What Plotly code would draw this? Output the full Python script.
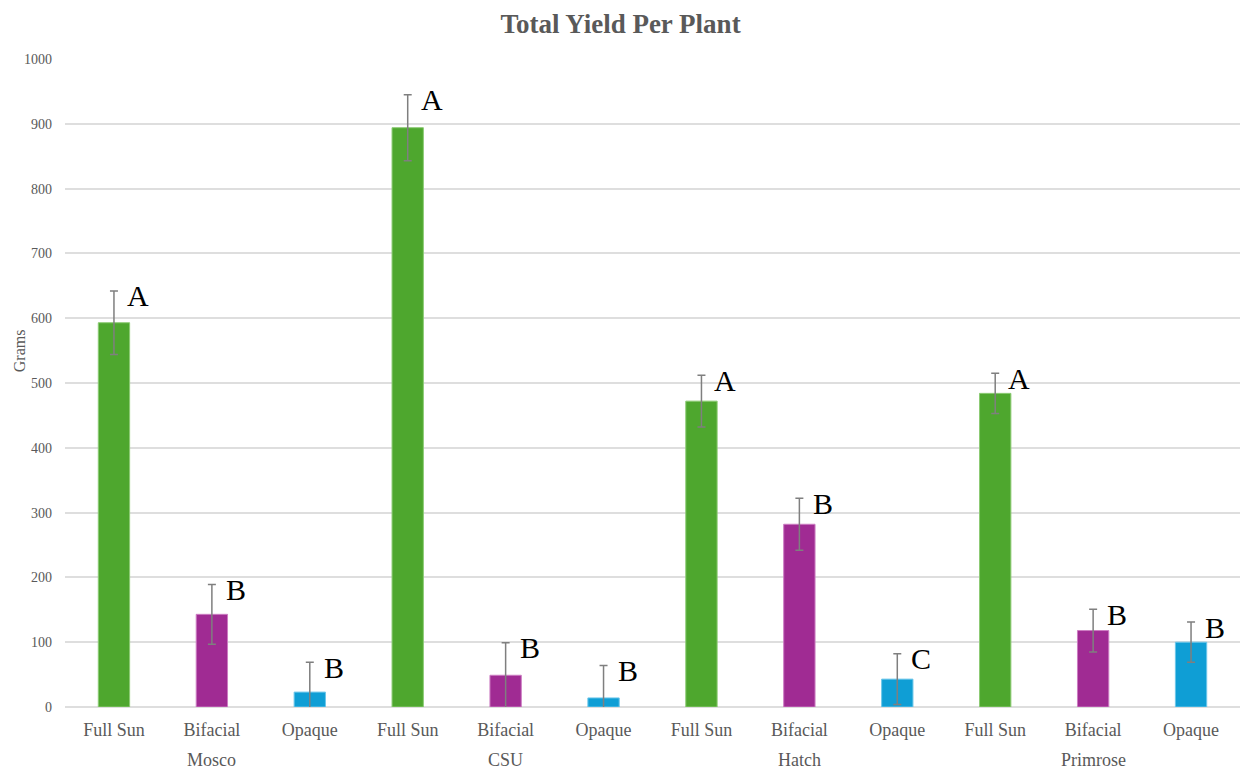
import plotly.graph_objects as go

# Yield per plant (grams), mean and error, by site and growing treatment
sites = ["Mosco", "CSU", "Hatch", "Primrose"]
treatments = ["Full Sun", "Bifacial", "Opaque"]

yield_full_sun = [593, 894, 472, 484]
yield_bifacial = [143, 49, 282, 118]
yield_opaque = [23, 14, 43, 100]

err_full_sun = [49, 51, 40, 31]
err_bifacial = [46, 50, 40, 33]
err_opaque = [46, 50, 39, 31]

# Significance letters per bar
letters_full_sun = ["A", "A", "A", "A"]
letters_bifacial = ["B", "B", "B", "B"]
letters_opaque = ["B", "B", "C", "B"]

y_ticks = [0, 100, 200, 300, 400, 500, 600, 700, 800, 900, 1000]

colors = {"Full Sun": "#4EA72E", "Bifacial": "#A02B93", "Opaque": "#0F9ED5"}
edges = {"Full Sun": "#8CCB74", "Bifacial": "#CC7CC2", "Opaque": "#6CC6EA"}

SERIF = "Liberation Serif"
GRAY = "#595959"

# Flatten into bar order: site by site, treatment within site
values, errors, letters, labels, bar_colors, bar_edges, xpos = [], [], [], [], [], [], []
series = {
    "Full Sun": (yield_full_sun, err_full_sun, letters_full_sun),
    "Bifacial": (yield_bifacial, err_bifacial, letters_bifacial),
    "Opaque": (yield_opaque, err_opaque, letters_opaque),
}
i = 0
for s_idx, site in enumerate(sites):
    for t in treatments:
        v, e, l = series[t]
        values.append(v[s_idx])
        errors.append(e[s_idx])
        letters.append(l[s_idx])
        labels.append(t)
        bar_colors.append(colors[t])
        bar_edges.append(edges[t])
        xpos.append(i)
        i += 1

fig = go.Figure()
fig.add_trace(go.Bar(
    x=xpos,
    y=values,
    width=0.32,
    marker=dict(color=bar_colors, line=dict(color=bar_edges, width=1)),
    error_y=dict(type="data", array=errors, visible=True,
                 color="#7F7F7F", thickness=1.5, width=4),
    showlegend=False,
    hoverinfo="skip",
))

# Significance letters beside the top of each error bar
for x, v, e, l in zip(xpos, values, errors, letters):
    fig.add_annotation(
        x=x, y=v + e, text=l, showarrow=False,
        xanchor="center", yanchor="middle", xshift=24, yshift=-5,
        font=dict(family=SERIF, size=30, color="#000000"),
    )

# Site names under each group of three bars
for s_idx, site in enumerate(sites):
    fig.add_annotation(
        x=s_idx * 3 + 1, y=0, yref="paper", text=site, showarrow=False,
        xanchor="center", yanchor="middle", yshift=-53,
        font=dict(family=SERIF, size=18, color=GRAY),
    )

# Y-axis title
fig.add_annotation(
    x=0, xref="paper", y=0.549, yref="paper", text="Grams", showarrow=False,
    textangle=-90, xanchor="center", yanchor="middle", xshift=-46,
    font=dict(family=SERIF, size=16, color=GRAY),
)

fig.update_layout(
    width=1241, height=770,
    margin=dict(l=65, r=1, t=59, b=63),
    paper_bgcolor="white", plot_bgcolor="white",
    font=dict(family=SERIF),
    title=dict(text="<b>Total Yield Per Plant</b>", x=0.5, xanchor="center",
               y=1 - 24 / 770, yanchor="middle",
               font=dict(family=SERIF, size=27, color=GRAY)),
    bargap=0.68,
)
fig.update_xaxes(
    range=[-0.5, 11.5], tickmode="array", tickvals=xpos, ticktext=labels,
    showgrid=False, zeroline=False, showline=False, ticks="",
    ticklabelstandoff=10,
    tickfont=dict(family=SERIF, size=18, color=GRAY),
)
fig.update_yaxes(
    range=[0, 1000], tickmode="array", tickvals=y_ticks,
    showgrid=True, gridcolor="#DEDEDE", gridwidth=1.5,
    zeroline=True, zerolinecolor="#DEDEDE", zerolinewidth=1.5,
    showline=False, ticks="", ticklabelstandoff=12,
    tickfont=dict(family=SERIF, size=14, color=GRAY),
)

fig.write_html("out.html")
